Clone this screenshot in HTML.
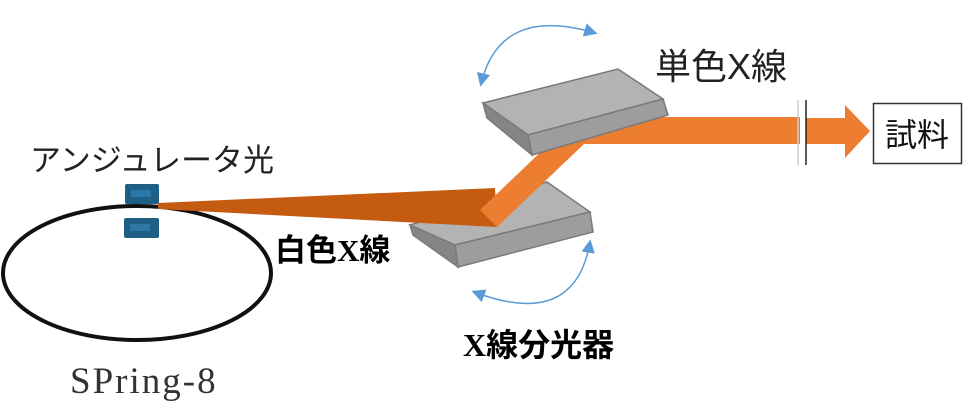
<!DOCTYPE html>
<html><head><meta charset="utf-8"><style>
html,body{margin:0;padding:0;background:#fff;}
svg{display:block;}
.j{font-family:"Liberation Sans","Noto Sans CJK JP",sans-serif;}
.b{font-family:"Liberation Serif","Noto Sans CJK JP",sans-serif;font-weight:bold;}
</style></head><body>
<svg width="980" height="410" viewBox="0 0 980 410" xmlns="http://www.w3.org/2000/svg">
<defs>
<marker id="ah" viewBox="0 0 10 10" refX="8" refY="5" markerWidth="9" markerHeight="9" orient="auto-start-reverse">
<path d="M0,0 L10,5 L0,10 z" fill="#5b9bd5"/></marker>
</defs>
<ellipse cx="137" cy="273" rx="134" ry="67" fill="none" stroke="#111" stroke-width="4"/>
<rect x="125" y="184" width="34" height="20" rx="2" fill="#1f5f85"/>
<rect x="131" y="190" width="20" height="7" fill="#2b78a8"/>
<rect x="124" y="218" width="35" height="20" rx="2" fill="#1f5f85"/>
<rect x="130" y="224" width="20" height="7" fill="#2b78a8"/>
<polygon points="410,225 547,182 590,212 455,245" fill="#b3b3b3" stroke="#7a7a7a" stroke-width="1.5"/>
<polygon points="455,245 590,212 593,232 458,267" fill="#9d9d9d" stroke="#7a7a7a" stroke-width="1.5"/>
<polygon points="410,225 455,245 458,267 413,235" fill="#858585" stroke="#7a7a7a" stroke-width="1.5"/>
<polygon points="158,203 495,188 497,227 158,209" fill="#c55a11"/>
<polygon points="480,210 497,227 584,144 800,144 800,117 600,117 548,145" fill="#ed7d31"/>
<rect x="806" y="118" width="40" height="26" fill="#ed7d31"/>
<polygon points="845,105 870,131 845,158" fill="#ed7d31"/>
<line x1="798" y1="100" x2="798" y2="165" stroke="#ccc" stroke-width="1.5"/>
<line x1="806" y1="100" x2="806" y2="165" stroke="#222" stroke-width="1.5"/>
<polygon points="483,103 618,69 663,99 528,135" fill="#b3b3b3" stroke="#7a7a7a" stroke-width="1.5"/>
<polygon points="528,135 663,99 668,115 532,155" fill="#9d9d9d" stroke="#7a7a7a" stroke-width="1.5"/>
<polygon points="483,103 528,135 532,155 487,118" fill="#858585" stroke="#7a7a7a" stroke-width="1.5"/>
<path d="M481,84 Q500,5 595,33" fill="none" stroke="#5b9bd5" stroke-width="1.5" marker-start="url(#ah)" marker-end="url(#ah)"/>
<path d="M590,242 Q575,330 474,292" fill="none" stroke="#5b9bd5" stroke-width="1.5" marker-start="url(#ah)" marker-end="url(#ah)"/>
<rect x="873.5" y="103.5" width="88" height="60" fill="#fff" stroke="#333" stroke-width="1.5"/>
<text x="917" y="146" class="j" font-size="32" text-anchor="middle" fill="#111">試料</text>
<text x="655" y="79" class="j" font-size="36" fill="#222">単色X線</text>
<text x="30" y="171" class="j" font-size="31" fill="#222">アンジュレータ光</text>
<text x="275" y="261" class="b" font-size="31" fill="#000">白色X線</text>
<text x="463" y="356" class="b" font-size="32" fill="#000">X線分光器</text>
<text x="70" y="393" font-family="'Liberation Serif',serif" font-size="37" letter-spacing="2" fill="#333">SPring-8</text>
</svg>
</body></html>
